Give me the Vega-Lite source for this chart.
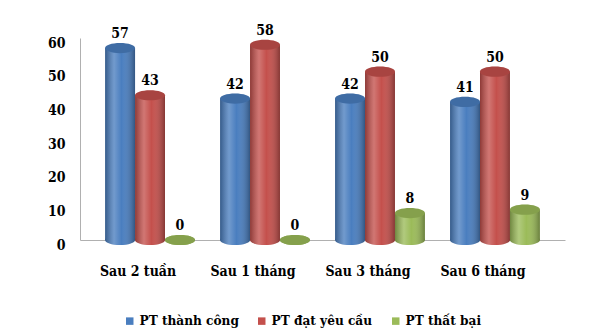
{
  "$schema": "https://vega.github.io/schema/vega-lite/v6.json",
  "autosize": {"type": "none"},
  "width": 485,
  "height": 202,
  "padding": {"left": 80, "top": 38, "right": 26, "bottom": 96},
  "background": "white",
  "config": {
    "view": {"stroke": null},
    "axis": {"labelFont": "DejaVu Serif Condensed", "labelFontWeight": "bold", "labelFontSize": 14, "labelColor": "#000000", "grid": false, "ticks": false, "domainColor": "#b0b0b0", "title": null, "labelOverlap": false, "labelFlush": false},
    "legend": {"labelFont": "DejaVu Serif Condensed", "labelFontWeight": "bold", "labelFontSize": 13.5, "labelColor": "#000000"}
  },
  "data": {
    "values": [
      {"period": "Sau 2 tuần", "series": "PT thành công", "value": 57},
      {"period": "Sau 2 tuần", "series": "PT đạt yêu cầu", "value": 43},
      {"period": "Sau 2 tuần", "series": "PT thất bại", "value": 0},
      {"period": "Sau 1 tháng", "series": "PT thành công", "value": 42},
      {"period": "Sau 1 tháng", "series": "PT đạt yêu cầu", "value": 58},
      {"period": "Sau 1 tháng", "series": "PT thất bại", "value": 0},
      {"period": "Sau 3 tháng", "series": "PT thành công", "value": 42},
      {"period": "Sau 3 tháng", "series": "PT đạt yêu cầu", "value": 50},
      {"period": "Sau 3 tháng", "series": "PT thất bại", "value": 8},
      {"period": "Sau 6 tháng", "series": "PT thành công", "value": 41},
      {"period": "Sau 6 tháng", "series": "PT đạt yêu cầu", "value": 50},
      {"period": "Sau 6 tháng", "series": "PT thất bại", "value": 9}
    ]
  },
  "encoding": {
    "x": {
      "field": "period", "type": "nominal", "sort": null,
      "scale": {"paddingInner": 0, "paddingOuter": 0.109},
      "axis": {"labelAngle": 0, "labelPadding": 24, "labelOffset": -12}
    },
    "xOffset": {
      "field": "series", "type": "nominal",
      "sort": ["PT thành công", "PT đạt yêu cầu", "PT thất bại"],
      "scale": {"domain": ["PT thành công", "PT đạt yêu cầu", "PT thất bại"], "paddingInner": 0, "paddingOuter": 0.42}
    },
    "y": {
      "field": "value", "type": "quantitative", "scale": {"domain": [0, 60]},
      "axis": {"values": [0, 10, 20, 30, 40, 50, 60], "tickCount": 7, "labelPadding": 15, "labelOffset": 5}
    }
  },
  "layer": [
    {
      "mark": {"type": "point", "filled": true, "opacity": 1, "size": 900, "strokeWidth": 0,
        "shape": "M-1,0A1,0.34,0,1,1,1,0A1,0.34,0,1,1,-1,0Z"},
      "encoding": {
        "y": {"datum": 0, "type": "quantitative"},
        "color": {
          "field": "series", "type": "nominal",
          "sort": ["PT thành công", "PT đạt yêu cầu", "PT thất bại"],
          "scale": {"domain": ["PT thành công", "PT đạt yêu cầu", "PT thất bại"], "range": ["#4a7ebf", "#c4504c", "#9bbb59"]},
          "legend": {"title": null, "orient": "none", "legendX": 43, "legendY": 276, "direction": "horizontal", "symbolType": "square", "symbolSize": 56, "columnPadding": 16, "labelOffset": 3}
        }
      }
    },
    {
      "mark": {"type": "point", "filled": true, "opacity": 1, "size": 900, "strokeWidth": 0,
        "shape": "M-1,0A1,0.34,0,1,1,1,0A1,0.34,0,1,1,-1,0Z",
        "fill": {"gradient": "linear", "stops": [
          {"offset": 0, "color": "rgba(0,0,0,0.28)"},
          {"offset": 0.3, "color": "rgba(255,255,255,0.22)"},
          {"offset": 0.55, "color": "rgba(255,255,255,0)"},
          {"offset": 1, "color": "rgba(0,0,0,0.32)"}
        ]}},
      "encoding": {"y": {"datum": 0, "type": "quantitative"}}
    },
    {
      "mark": {"type": "bar"},
      "encoding": {"color": {"field": "series", "type": "nominal"}}
    },
    {
      "mark": {"type": "bar",
        "fill": {"gradient": "linear", "stops": [
          {"offset": 0, "color": "rgba(0,0,0,0.28)"},
          {"offset": 0.3, "color": "rgba(255,255,255,0.22)"},
          {"offset": 0.55, "color": "rgba(255,255,255,0)"},
          {"offset": 1, "color": "rgba(0,0,0,0.32)"}
        ]}}
    },
    {
      "mark": {"type": "point", "filled": true, "opacity": 1, "size": 900, "strokeWidth": 0,
        "shape": "M-1,0A1,0.34,0,1,1,1,0A1,0.34,0,1,1,-1,0Z"},
      "encoding": {"color": {"field": "series", "type": "nominal"}}
    },
    {
      "mark": {"type": "point", "filled": true, "opacity": 0.14, "size": 900, "strokeWidth": 0,
        "color": "#000000",
        "shape": "M-1,0A1,0.34,0,1,1,1,0A1,0.34,0,1,1,-1,0Z"}
    },
    {
      "mark": {"type": "text", "font": "DejaVu Serif Condensed", "fontWeight": "bold", "fontSize": 14, "color": "#000000", "dy": -14},
      "encoding": {"text": {"field": "value", "type": "quantitative"}}
    }
  ]
}
